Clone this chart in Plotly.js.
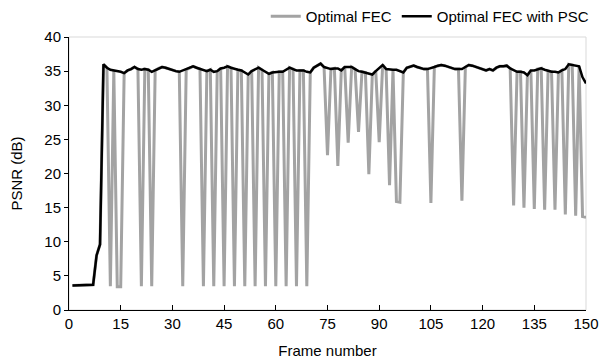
<!DOCTYPE html>
<html>
<head>
<meta charset="utf-8">
<script src="https://cdn.plot.ly/plotly-3.0.1.min.js"></script>
<style>html,body{margin:0;padding:0;background:#fff;}#chart{width:602px;height:363px;}</style>
</head>
<body>
<div id="chart"></div>
<script>
const frames = Array.from({length: 150}, (_, i) => i + 1);

const psnrPSC = [
  3.6, 3.6, 3.6, 3.6, 3.7, 3.7, 3.7, 8.0, 9.6, 36.0,
  35.5, 35.2, 35.1, 35.1, 34.9, 34.7, 35.1, 35.3, 35.6, 35.3,
  35.2, 35.3, 35.2, 34.9, 35.1, 35.4, 35.6, 35.5, 35.3, 35.1,
  35.0, 34.9, 35.1, 35.2, 35.5, 35.7, 35.5, 35.3, 35.2, 35.0,
  35.2, 34.9, 35.0, 35.4, 35.5, 35.7, 35.5, 35.3, 35.2, 35.1,
  34.8, 34.5, 35.0, 35.2, 35.5, 35.2, 34.9, 34.6, 34.8, 34.9,
  34.9, 34.9, 35.2, 35.5, 35.3, 35.1, 35.1, 35.1, 34.9, 34.8,
  35.5, 35.8, 36.1, 35.6, 35.4, 35.3, 35.4, 35.4, 35.1, 35.6,
  35.6, 35.6, 35.3, 35.0, 34.9, 34.8, 34.7, 34.5, 35.0, 35.5,
  35.9, 35.3, 35.2, 35.2, 35.2, 35.0, 34.8, 35.5, 35.7, 35.8,
  35.6, 35.4, 35.3, 35.3, 35.4, 35.6, 35.8, 35.9, 35.8, 35.6,
  35.5, 35.3, 35.3, 35.3, 35.6, 35.9, 35.8, 35.6, 35.4, 35.2,
  35.1, 35.3, 35.1, 35.5, 35.7, 35.7, 35.8, 35.4, 35.1, 34.9,
  34.9, 34.8, 34.4, 35.1, 35.1, 35.3, 35.4, 35.2, 35.0, 34.9,
  34.9, 34.8, 35.1, 35.3, 36.0, 35.9, 35.8, 35.7, 34.1, 33.2
];

const psnrFEC = [
  3.6, 3.6, 3.6, 3.6, 3.7, 3.7, 3.7, 8.0, 9.6, 36.0,
  35.5, 3.5, 35.1, 3.4, 3.4, 34.7, 35.1, 35.3, 35.6, 35.3,
  3.5, 35.3, 35.2, 3.5, 35.1, 35.4, 35.6, 35.5, 35.3, 35.1,
  35.0, 34.9, 3.5, 35.2, 35.5, 35.7, 35.5, 35.3, 3.5, 35.0,
  35.2, 3.5, 35.0, 35.4, 3.5, 35.7, 35.5, 3.5, 35.2, 35.1,
  3.5, 34.5, 35.0, 3.5, 35.5, 35.2, 3.5, 34.6, 34.8, 3.5,
  34.9, 34.9, 3.5, 35.5, 35.3, 3.5, 35.1, 35.1, 3.5, 34.8,
  35.5, 35.8, 36.1, 35.6, 22.7, 35.3, 35.4, 21.1, 35.1, 35.6,
  24.5, 35.6, 35.3, 26.1, 34.9, 34.8, 19.9, 34.5, 35.0, 24.6,
  35.9, 35.3, 18.3, 35.2, 15.9, 15.8, 34.8, 35.5, 35.7, 35.8,
  35.6, 35.4, 35.3, 35.3, 15.7, 35.6, 35.8, 35.9, 35.8, 35.6,
  35.5, 35.3, 35.3, 16.0, 35.6, 35.9, 35.8, 35.6, 35.4, 35.2,
  35.1, 35.3, 35.1, 35.5, 35.7, 35.7, 35.8, 35.4, 15.3, 34.9,
  34.9, 15.0, 34.4, 35.1, 14.8, 35.3, 35.4, 14.7, 35.0, 34.9,
  14.7, 34.8, 35.1, 14.0, 36.0, 35.9, 13.8, 35.7, 13.7, 13.6
];

const xTicks = [0, 15, 30, 45, 60, 75, 90, 105, 120, 135, 150];
const yTicks = [0, 5, 10, 15, 20, 25, 30, 35, 40];
const seriesNames = ['Optimal FEC', 'Optimal FEC with PSC'];

const FONT = 'Liberation Sans, Arial, sans-serif';

const traces = [
  {x: frames, y: psnrFEC, name: seriesNames[0], type: 'scatter', mode: 'lines',
   line: {color: '#a3a3a3', width: 3}},
  {x: frames, y: psnrPSC, name: seriesNames[1], type: 'scatter', mode: 'lines',
   line: {color: '#000000', width: 2.5}}
];

const layout = {
  width: 602, height: 363,
  margin: {l: 69, r: 16, t: 37, b: 53, autoexpand: false},
  paper_bgcolor: '#ffffff', plot_bgcolor: '#ffffff',
  font: {family: FONT, size: 15, color: '#000'},
  showlegend: true,
  legend: {orientation: 'h', x: 1.015, xanchor: 'right', y: 1.075, yanchor: 'middle',
           font: {family: FONT, size: 15, color: '#000'}, itemwidth: 30,
           bgcolor: 'rgba(0,0,0,0)', traceorder: 'normal'},
  xaxis: {range: [0, 150], tickvals: xTicks, ticktext: xTicks.map(String),
          showgrid: false, zeroline: false, showline: true, linecolor: '#000', linewidth: 1,
          ticks: 'inside', ticklen: 5, tickcolor: '#000',
          title: {text: 'Frame number', font: {family: FONT, size: 15}, standoff: 14},
          tickfont: {family: FONT, size: 15}},
  yaxis: {range: [0, 40], tickvals: yTicks, ticktext: yTicks.map(String),
          showgrid: false, zeroline: false, showline: true, linecolor: '#000', linewidth: 1,
          ticks: 'outside', ticklen: 4, tickcolor: '#000',
          title: {text: 'PSNR (dB)', font: {family: FONT, size: 15}, standoff: 18},
          tickfont: {family: FONT, size: 15}},
  shapes: [{type: 'rect', xref: 'paper', yref: 'paper', x0: 0, x1: 1, y0: 0, y1: 1,
            line: {color: '#d9d9d9', width: 1}, layer: 'below'}]
};

Plotly.newPlot('chart', traces, layout, {displayModeBar: false, staticPlot: true});
</script>
</body>
</html>
